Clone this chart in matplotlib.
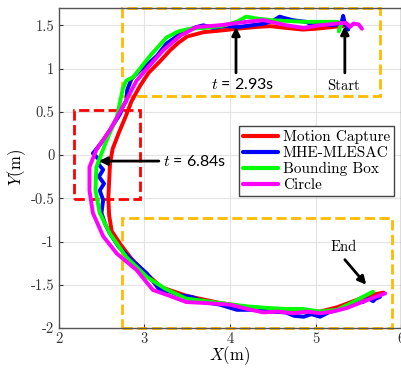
import matplotlib
matplotlib.use("Agg")
import matplotlib.pyplot as plt
from matplotlib.patches import Rectangle

plt.rcParams['mathtext.fontset'] = 'cm'
plt.rcParams['axes.unicode_minus'] = False
plt.rcParams['axes.formatter.use_mathtext'] = True

# ---------------- data ----------------
mc_x = [5.38, 5.2, 5.0, 4.85, 4.65, 4.47, 4.3, 4.08, 3.9, 3.69, 3.5, 3.4, 3.30, 3.18, 3.05, 2.95,
        2.85, 2.78, 2.70, 2.63, 2.60, 2.59, 2.58, 2.59, 2.62, 2.72, 2.85, 3.0, 3.2, 3.5, 3.88,
        4.2, 4.47, 4.8, 5.05, 5.25, 5.44, 5.6, 5.79]
mc_y = [1.50, 1.48, 1.46, 1.45, 1.47, 1.49, 1.48, 1.46, 1.44, 1.42, 1.37, 1.30, 1.21, 1.08, 0.95, 0.80,
        0.62, 0.44, 0.25, 0.07, -0.1, -0.3, -0.5, -0.7, -0.88, -1.03, -1.2, -1.35, -1.53, -1.63, -1.71,
        -1.76, -1.79, -1.81, -1.81, -1.76, -1.69, -1.63, -1.59]

mhe_x = [5.38, 5.34, 5.32, 5.30, 5.2, 5.05, 4.95, 4.89, 4.80, 4.73, 4.65, 4.58, 4.50, 4.40, 4.25,
         4.10, 3.95, 3.80, 3.69, 3.61, 3.50, 3.42, 3.35, 3.26, 3.15, 3.03, 2.95, 2.85, 2.80, 2.79,
         2.75, 2.72, 2.62, 2.52, 2.45, 2.40, 2.48, 2.46, 2.52, 2.47, 2.53, 2.48, 2.52, 2.50, 2.54,
         2.60, 2.70, 2.85, 3.03, 3.18, 3.30, 3.40, 3.55, 3.70, 3.88, 4.08, 4.30, 4.47, 4.65, 4.75,
         4.86, 4.95, 5.05, 5.15, 5.25, 5.35, 5.44, 5.55, 5.62, 5.67, 5.70, 5.75]
mhe_y = [1.45, 1.52, 1.61, 1.52, 1.50, 1.52, 1.51, 1.54, 1.55, 1.56, 1.58, 1.60, 1.55, 1.52, 1.50,
         1.48, 1.49, 1.47, 1.50, 1.48, 1.44, 1.41, 1.35, 1.29, 1.15, 1.04, 0.98, 0.88, 0.75, 0.63,
         0.56, 0.48, 0.32, 0.17, 0.08, 0.02, -0.06, -0.10, -0.17, -0.25, -0.33, -0.41, -0.52, -0.67, -0.79,
         -0.91, -1.06, -1.21, -1.37, -1.56, -1.58, -1.62, -1.64, -1.70, -1.73, -1.79, -1.79, -1.81, -1.82, -1.86,
         -1.87, -1.84, -1.87, -1.82, -1.79, -1.76, -1.71, -1.70, -1.66, -1.69, -1.66, -1.64]

bb_x = [5.27, 5.28, 5.30, 5.25, 5.05, 4.86, 4.66, 4.47, 4.30, 4.19, 4.08, 3.90, 3.70, 3.53, 3.40,
        3.26, 3.07, 2.87, 2.79, 2.75, 2.68, 2.56, 2.44, 2.43, 2.48, 2.60, 2.79, 3.03, 3.25, 3.49,
        3.88, 4.20, 4.47, 4.66, 4.85, 5.05, 5.25, 5.44, 5.55, 5.67]
bb_y = [1.43, 1.47, 1.52, 1.54, 1.54, 1.54, 1.55, 1.56, 1.58, 1.60, 1.54, 1.49, 1.47, 1.46, 1.43,
        1.36, 1.15, 0.90, 0.86, 0.77, 0.44, 0.17, -0.14, -0.41, -0.67, -0.91, -1.18, -1.41, -1.55, -1.66,
        -1.71, -1.75, -1.77, -1.78, -1.78, -1.81, -1.79, -1.70, -1.64, -1.58]

cir_x = [5.54, 5.50, 5.44, 5.40, 5.35, 5.25, 5.05, 4.86, 4.66, 4.52, 4.39, 4.19, 3.88, 3.61, 3.42,
         3.22, 3.03, 2.91, 2.75, 2.60, 2.44, 2.36, 2.36, 2.40, 2.52, 2.68, 2.91, 3.10, 3.30, 3.49,
         3.69, 4.00, 4.20, 4.39, 4.55, 4.74, 4.90, 5.05, 5.20, 5.36, 5.59, 5.70, 5.81]
cir_y = [1.46, 1.51, 1.52, 1.48, 1.53, 1.52, 1.50, 1.47, 1.50, 1.53, 1.56, 1.54, 1.50, 1.48, 1.38,
         1.21, 1.00, 0.86, 0.56, 0.29, 0.06, -0.14, -0.41, -0.67, -0.94, -1.14, -1.33, -1.56, -1.63, -1.70,
         -1.71, -1.73, -1.78, -1.82, -1.81, -1.83, -1.81, -1.83, -1.81, -1.77, -1.68, -1.64, -1.60]

series = [
    ("Motion Capture", mc_x, mc_y, "#ff0000"),
    ("MHE-MLESAC", mhe_x, mhe_y, "#0000ff"),
    ("Bounding Box", bb_x, bb_y, "#00ff00"),
    ("Circle", cir_x, cir_y, "#ff00ff"),
]

xticks = [2, 3, 4, 5, 6]
yticks = [-2, -1.5, -1, -0.5, 0, 0.5, 1, 1.5]
ytick_labels = ["-2", "-1.5", "-1", "-0.5", "0", "0.5", "1", "1.5"]

# ---------------- figure ----------------
fig = plt.figure(figsize=(4.02, 3.68), dpi=100)
ax = fig.add_axes([0.1458, 0.1087, 0.8527, 0.8696])

for label, xs, ys, c in series:
    ax.plot(xs, ys, color=c, lw=2.8, label=label, solid_capstyle='round', solid_joinstyle='round')

ax.set_xlim(2, 6)
ax.set_ylim(-2, 1.7)
ax.set_xticks(xticks)
ax.set_xticklabels([str(v) for v in xticks])
ax.set_yticks(yticks)
ax.set_yticklabels(ytick_labels)
for lab in ax.get_xticklabels() + ax.get_yticklabels():
    lab.set_fontfamily('cmr10')
    lab.set_fontsize(10.5)
    lab.set_color('#333333')
ax.tick_params(direction='in', length=3, width=0.8, colors='#333333', pad=3)
ax.grid(True, color='#e3e3e3', lw=0.8)
ax.set_axisbelow(True)
for s in ax.spines.values():
    s.set_color('#555555')
    s.set_linewidth(1.0)

ax.set_xlabel(r'$X(\mathrm{m})$', fontsize=12, labelpad=-1)
ax.set_ylabel(r'$Y(\mathrm{m})$', fontsize=12, labelpad=2)

# dashed boxes
orange = '#ffbb00'
ax.add_patch(Rectangle((2.74, 0.68), 5.75 - 2.74, 1.70 - 0.68, fill=False, ec=orange,
                       lw=2.0, ls='--', clip_on=False, zorder=1))
ax.add_patch(Rectangle((2.74, -2.005), 5.89 - 2.74, -0.73 + 2.005, fill=False, ec=orange,
                       lw=2.0, ls='--', clip_on=False, zorder=1))
ax.add_patch(Rectangle((2.18, -0.51), 2.95 - 2.18, 0.52 + 0.51, fill=False, ec='#ff0000',
                       lw=2.0, ls='--', clip_on=False, zorder=1))

# annotations
ap = dict(arrowstyle='-|>', lw=2.0, color='black', mutation_scale=12, shrinkA=0, shrinkB=0)
ax.annotate('', xy=(4.07, 1.48), xytext=(4.07, 0.95), arrowprops=ap, zorder=6)
ax.text(4.15, 0.81, r'$t$ = 2.93s', family='Lato', fontsize=11.5, ha='center', va='center')
ax.annotate('', xy=(5.34, 1.49), xytext=(5.34, 0.95), arrowprops=ap, zorder=6)
ax.text(5.33, 0.80, 'Start', family='cmr10', fontsize=10.5, ha='center', va='center')
ax.annotate('', xy=(2.47, -0.07), xytext=(3.17, -0.07), arrowprops=ap, zorder=6)
ax.text(3.22, -0.07, r'$t$ = 6.84s', family='Lato', fontsize=11.5, ha='left', va='center')
ax.annotate('', xy=(5.59, -1.50), xytext=(5.34, -1.21), arrowprops=ap, zorder=6)
ax.text(5.33, -1.07, 'End', family='cmr10', fontsize=10.5, ha='center', va='center')

leg = ax.legend(loc='upper left', bbox_to_anchor=(0.527, 0.631), borderaxespad=0,
                prop={'family': 'cmr10', 'size': 11}, fancybox=False, framealpha=1,
                edgecolor='#444444', handlelength=2.3, handletextpad=0.3,
                labelspacing=0.15, borderpad=0.25)
leg.get_frame().set_linewidth(1.0)
for line in leg.get_lines():
    line.set_linewidth(3.0)

fig.savefig('out.png', dpi=100)
